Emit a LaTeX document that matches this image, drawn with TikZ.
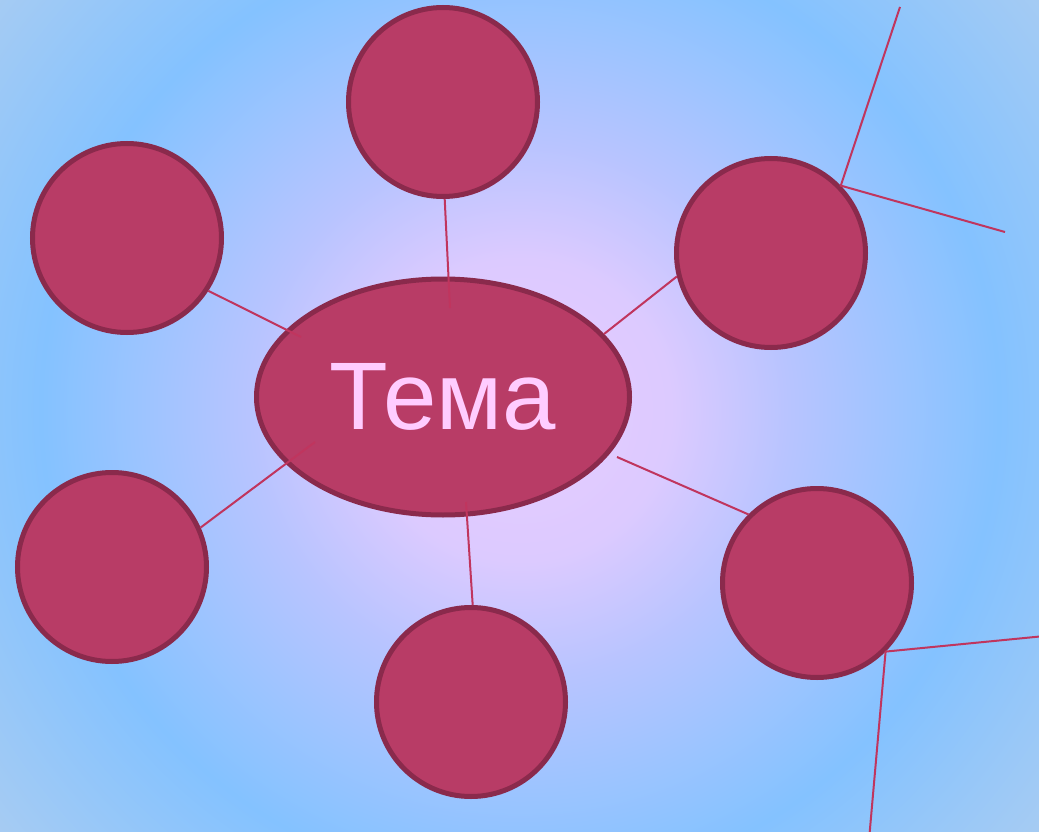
\documentclass[tikz,border=0pt]{standalone}
\usepackage{fontspec}
\setmainfont{Liberation Sans}
\usetikzlibrary{shapes.geometric}
\definecolor{bg0}{HTML}{E8CCFF}
\definecolor{bg1}{HTML}{DCCAFF}
\definecolor{bg2}{HTML}{B8C4FF}
\definecolor{bg3}{HTML}{9CC4FF}
\definecolor{bg4}{HTML}{84C2FF}
\definecolor{bg5}{HTML}{A8CCF2}
\definecolor{fillc}{HTML}{B83C66}
\definecolor{bordc}{HTML}{8A2A4C}
\definecolor{linec}{HTML}{C0355E}
\definecolor{textc}{HTML}{FFCCFF}
\pgfdeclareradialshading{bgshade}{\pgfpoint{0bp}{0bp}}{color(0bp)=(bg0); color(5.4bp)=(bg1); color(9.6bp)=(bg2); color(13.6bp)=(bg3); color(17.1bp)=(bg4); color(24.3bp)=(bg5); color(50bp)=(bg5)}
\tikzset{
  bubble/.style={circle, draw=bordc, fill=fillc, line width=5pt, minimum size=189pt, inner sep=0pt},
  topic/.style={ellipse, draw=bordc, fill=fillc, line width=5pt, minimum width=373pt, minimum height=236pt, inner sep=0pt, text=textc, font=\fontsize{96}{110}\selectfont},
  conn/.style={draw=linec, line width=2pt}
}
\begin{document}
\begin{tikzpicture}[x=1pt,y=-1pt]
\useasboundingbox (0,0) rectangle (1039,832);
\begin{scope}
\clip (0,0) rectangle (1039,832);
\shade[shading=bgshade] (-180,-290) rectangle (1220,1110);
\end{scope}
\node[topic] (tema) at (443,397) {Тема};
\coordinate (e1) at (450,308);
\coordinate (e2) at (301,337);
\coordinate (e3) at (604,334);
\coordinate (e4) at (315,442);
\coordinate (e5) at (466,502);
\coordinate (e6) at (617,457);
\coordinate (x1) at (900,7);
\coordinate (x2) at (1005,232);
\coordinate (x3) at (1045,636);
\coordinate (x4) at (869,840);
\node[bubble] (ct) at (443,102) {};
\node[bubble] (cul) at (127,238) {};
\node[bubble] (cur) at (771,253) {};
\node[bubble] (cl) at (112,567) {};
\node[bubble] (cb) at (471,702) {};
\node[bubble] (cr) at (817,583) {};
\draw[conn] (ct.-89) -- (e1);
\draw[conn] (cul.-33) -- (e2);
\draw[conn] (cur.194) -- (e3);
\draw[conn] (cl.24) -- (e4);
\draw[conn] (cb.89) -- (e5);
\draw[conn] (cr.135) -- (e6);
\draw[conn] (x1) -- (cur.44) -- (x2);
\draw[conn] (x3) -- (cr.-45) -- (x4);
\end{tikzpicture}
\end{document}
